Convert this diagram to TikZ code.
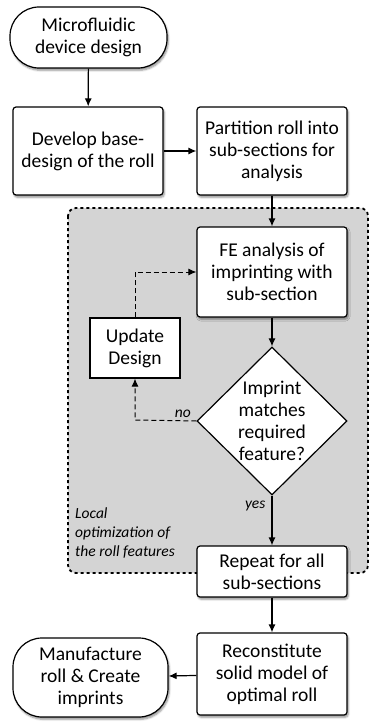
\documentclass[tikz,border=0pt]{standalone}
\usepackage{fontspec}
\setmainfont{Carlito}
\usetikzlibrary{shapes.geometric,shadows.blur,arrows.meta}
\begin{document}
\begin{tikzpicture}[x=1pt,y=-1pt,
  every node/.style={font=\fontsize{19.5}{22}\selectfont, align=center, inner sep=0pt},
  shd/.style={blur shadow={shadow xshift=1.2pt, shadow yshift=-2.2pt, shadow blur steps=6, shadow opacity=45}},
  procbox/.style={draw, line width=1.2pt, fill=white, rounded corners=3pt, minimum width=150pt, shd},
  termbox/.style={draw, line width=1.2pt, fill=white, rounded corners=29pt, shd},
  plainbox/.style={draw, line width=1.2pt, fill=white, minimum width=90pt, minimum height=60pt},
  decision/.style={draw, line width=1.2pt, fill=white, diamond, minimum width=150pt, minimum height=148pt},
  arr/.style={line width=1.2pt, -{Latex[length=8pt,width=7pt]}},
  darr/.style={line width=1pt, dash pattern=on 5pt off 3pt, -{Latex[length=8pt,width=7pt]}},
  lbl/.style={font=\fontsize{15.5}{19}\selectfont\itshape}
]
\useasboundingbox (0,0) rectangle (370,725);
% region
\draw[fill={rgb,255:red,212;green,212;blue,212}, line width=1.8pt, dash pattern=on 3pt off 3pt, rounded corners=8pt] (68,208) rectangle (368,573);
\node[lbl, anchor=north west, align=left] (loc) at (75,508) {Local\\optimization of\\the roll features};

\node[termbox, minimum width=157pt, minimum height=61pt] (start) at (88.5,37.5) {Microfluidic\\device design};
\node[procbox, minimum height=88pt] (dev) at (88,151) {Develop base-\\design of the roll};
\node[procbox, minimum height=88pt] (part) at (272,151) {Partition roll into\\sub-sections for\\analysis};
\node[procbox, minimum height=90pt] (fe) at (272,272) {FE analysis of\\imprinting with\\sub-section};
\node[plainbox] (upd) at (135,348) {Update\\Design};
\node[decision] (dec) at (272,421) {Imprint\\matches\\required\\feature?};
\node[procbox, minimum height=51pt] (rep) at (272,571.5) {Repeat for all\\sub-sections};
\node[procbox, minimum height=82pt] (rec) at (272,674) {Reconstitute\\solid model of\\optimal roll};
\node[termbox, minimum width=155pt, minimum height=79pt] (man) at (90.5,677.5) {Manufacture\\roll \& Create\\imprints};

\draw[arr] (start) -- (dev);
\draw[arr] (dev) -- (part);
\draw[arr] (part) -- (fe);
\draw[arr] (fe) -- (dec);
\draw[arr] (dec.south) -- node[lbl, pos=0.2, left=6pt] (yes) {yes} (rep);
\draw[arr] (rep) -- (rec);
\draw[arr] (rec) -- (man);
\draw[darr] (dec.west) -- node[lbl, pos=0.22, above=3pt] (no) {no} (135,420) -- (upd.south);
\draw[darr] (upd.north) |- (fe.west);
\end{tikzpicture}
\end{document}
